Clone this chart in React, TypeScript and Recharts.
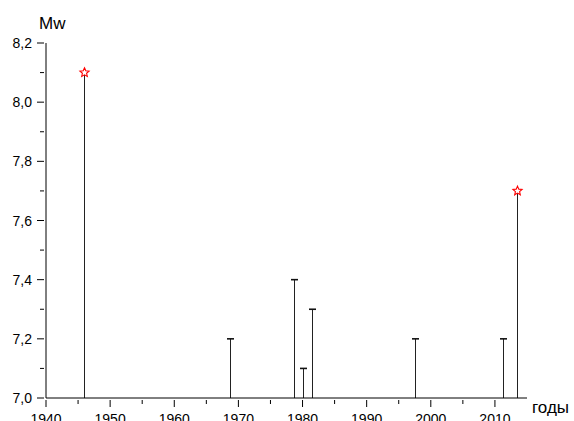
import { Bar, ComposedChart, XAxis, YAxis } from "recharts";

// earthquake events: year and moment magnitude
const years = [1946, 1968.7, 1978.7, 1980.1, 1981.6, 1997.6, 2011.3, 2013.5];
const magnitudes = [8.1, 7.2, 7.4, 7.1, 7.3, 7.2, 7.2, 7.7];
const starred = [true, false, false, false, false, false, false, true];

const xMajorTicks = [1940, 1950, 1960, 1970, 1980, 1990, 2000, 2010];
const xMinorTicks = [1945, 1955, 1965, 1975, 1985, 1995, 2005];
const yMajorTicks = [7.0, 7.2, 7.4, 7.6, 7.8, 8.0, 8.2];
const yMinorTicks = [7.1, 7.3, 7.5, 7.7, 7.9, 8.1];

const data = years.map((year, i) => ({ year, mw: magnitudes[i], star: starred[i] }));

const FONT = "'Liberation Sans', Arial, sans-serif";

function starPoints(cx: number, cy: number, outer: number, inner: number) {
  const pts: string[] = [];
  for (let i = 0; i < 10; i++) {
    const r = i % 2 === 0 ? outer : inner;
    const a = -Math.PI / 2 + (i * Math.PI) / 5;
    pts.push(`${cx + r * Math.cos(a)},${cy + r * Math.sin(a)}`);
  }
  return pts.join(" ");
}

function Stem(props: any) {
  const { x, y, width, height, payload } = props;
  const cx = Math.round(x + width / 2) + 0.5;
  return (
    <g>
      <line x1={cx} x2={cx} y1={y} y2={y + height} stroke="#222" strokeWidth={1} />
      {payload.star ? (
        <polygon points={starPoints(cx, y, 4.8, 2.2)} fill="#fff" stroke="#ff0000" strokeWidth={1.1} />
      ) : (
        <line x1={cx - 3.5} x2={cx + 3.5} y1={y} y2={y} stroke="#111" strokeWidth={1.6} />
      )}
    </g>
  );
}

function XTick(props: any) {
  const { x, y, payload } = props;
  const major = xMajorTicks.includes(payload.value);
  return (
    <g>
      <line x1={x} x2={x} y1={y} y2={y + (major ? 7 : 4)} stroke="#000" />
      {major && (
        <text x={x} y={y + 24} textAnchor="middle" fontSize={14} fontFamily={FONT} fill="#000">
          {payload.value}
        </text>
      )}
    </g>
  );
}

function YTick(props: any) {
  const { x, y, payload } = props;
  const major = yMajorTicks.some((t) => Math.abs(t - payload.value) < 1e-6);
  return (
    <g>
      <line x1={x - (major ? 7 : 4)} x2={x} y1={y} y2={y} stroke="#000" />
      {major && (
        <text x={x - 12} y={y + 5} textAnchor="end" fontSize={14} fontFamily={FONT} fill="#000">
          {payload.value.toFixed(1).replace(".", ",")}
        </text>
      )}
    </g>
  );
}

export default function App() {
  return (
    <div style={{ position: "relative", width: 574, height: 421, background: "#fff" }}>
      <style>{"body{margin:0}"}</style>
      <ComposedChart
        width={574}
        height={421}
        data={data}
        margin={{ top: 43, right: 47, bottom: 0, left: 0 }}
      >
        <XAxis
          type="number"
          dataKey="year"
          domain={[1940, 2015]}
          ticks={[...xMajorTicks, ...xMinorTicks].sort((a, b) => a - b)}
          interval={0}
          tick={<XTick />}
          tickLine={false}
          tickSize={0}
          height={23}
          axisLine={{ stroke: "#000" }}
          allowDataOverflow
        />
        <YAxis
          type="number"
          domain={[7, 8.2]}
          ticks={[...yMajorTicks, ...yMinorTicks].sort((a, b) => a - b)}
          interval={0}
          tick={<YTick />}
          tickLine={false}
          tickSize={0}
          width={46}
          axisLine={{ stroke: "#000" }}
          allowDataOverflow
        />
        <Bar dataKey="mw" barSize={8} shape={<Stem />} isAnimationActive={false} />
      </ComposedChart>
      <svg width={574} height={421} style={{ position: "absolute", left: 0, top: 0, pointerEvents: "none" }}>
        <text x={39} y={29} fontSize={17} fontFamily={FONT} fill="#000">Mw</text>
        <text x={532} y={413} fontSize={17} fontFamily={FONT} fill="#000">годы</text>
      </svg>
    </div>
  );
}
